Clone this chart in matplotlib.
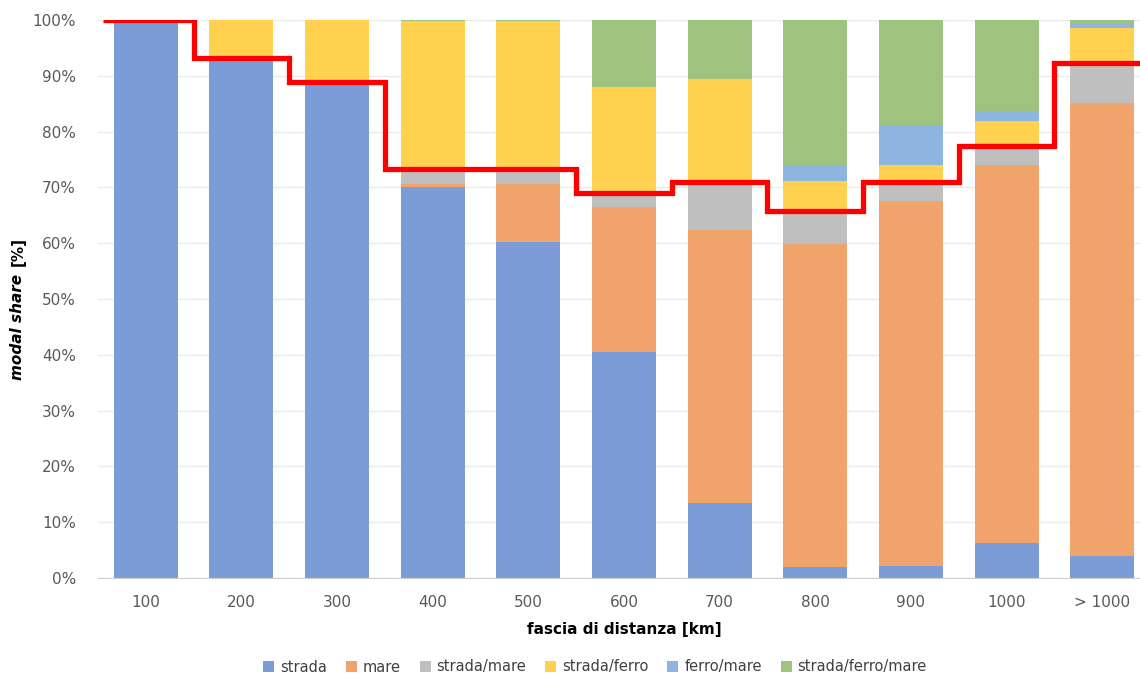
import numpy as np
import matplotlib.pyplot as plt

# distance bands and modal shares (%)
bands = ["100", "200", "300", "400", "500", "600", "700", "800", "900", "1000", "> 1000"]
strada = [99.6, 93.2, 88.4, 70.1, 60.2, 40.5, 13.4, 2.0, 2.2, 6.3, 3.9]
mare = [0.0, 0.0, 0.0, 0.5, 10.4, 26.0, 49.0, 57.9, 65.4, 67.7, 81.2]
strada_mare = [0.0, 0.0, 0.0, 3.0, 3.0, 2.5, 8.9, 6.0, 2.8, 4.0, 6.7]
strada_ferro = [0.4, 6.8, 11.6, 26.3, 26.2, 19.0, 18.2, 5.2, 3.6, 3.9, 6.8]
ferro_mare = [0.0, 0.0, 0.0, 0.0, 0.0, 0.0, 0.0, 3.0, 7.2, 1.8, 0.6]
strada_ferro_mare = [0.0, 0.0, 0.0, 0.1, 0.2, 12.0, 10.5, 25.9, 18.8, 16.3, 0.8]

# reference share drawn as a red step line
soglia = [100.0, 93.2, 88.8, 73.3, 73.3, 69.0, 71.0, 65.8, 71.0, 77.5, 92.3]

series = [
    ("strada", strada, "#7B9CD6"),
    ("mare", mare, "#F0A46C"),
    ("strada/mare", strada_mare, "#BFBFBF"),
    ("strada/ferro", strada_ferro, "#FFD14F"),
    ("ferro/mare", ferro_mare, "#8DB5E0"),
    ("strada/ferro/mare", strada_ferro_mare, "#9DC37E"),
]

fig = plt.figure(figsize=(11.4, 6.76), dpi=100)
ax = fig.add_axes([98 / 1140, 98 / 676, 1052 / 1140, 558 / 676])

x = np.arange(len(bands))
bottom = np.zeros(len(bands))
for name, vals, col in series:
    vals = np.array(vals)
    ax.bar(x, vals, 0.67, bottom=bottom, color=col, label=name, zorder=2)
    bottom += vals

edges = np.concatenate(([-0.45], np.arange(0.5, len(bands) - 0.5), [len(bands) - 0.6]))
ax.stairs(soglia, edges, baseline=None, color="#FF0000", linewidth=3.8, zorder=3)

ax.set_xlim(-0.5, len(bands) - 0.5)
ax.set_ylim(0, 100)
ax.set_xticks(x)
ax.set_xticklabels(bands)
ax.set_yticks(np.arange(0, 101, 10))
ax.set_yticklabels([f"{v}%" for v in range(0, 101, 10)])
ax.tick_params(axis="both", length=0, labelsize=11, labelcolor="#595959")
ax.tick_params(axis="x", pad=12)
ax.tick_params(axis="y", pad=16)
ax.grid(axis="y", color="#EBEBEB", linewidth=1, zorder=0)
for s in ["top", "right", "left"]:
    ax.spines[s].set_visible(False)
ax.spines["bottom"].set_color("#D0D0D0")

ax.set_xlabel("fascia di distanza [km]", fontsize=11, fontweight="bold", labelpad=9)

# y label: "modal share" in bold italic, "[%]" in bold
fig.text(18 / 1140, 1 - 380 / 676, "modal share", rotation=90, fontsize=11,
         fontweight="bold", fontstyle="italic", ha="center", va="bottom")
fig.text(18 / 1140, 1 - 266 / 676, "[%]", rotation=90, fontsize=11,
         fontweight="bold", ha="center", va="bottom")

fig.legend(loc="center", bbox_to_anchor=(0.522, 1 - 667 / 676), ncol=6, frameon=False,
           fontsize=10.5, handlelength=0.75, handleheight=0.75, handletextpad=0.4,
           columnspacing=1.3, labelcolor="#404040")

fig.savefig("out.png", dpi=100)
